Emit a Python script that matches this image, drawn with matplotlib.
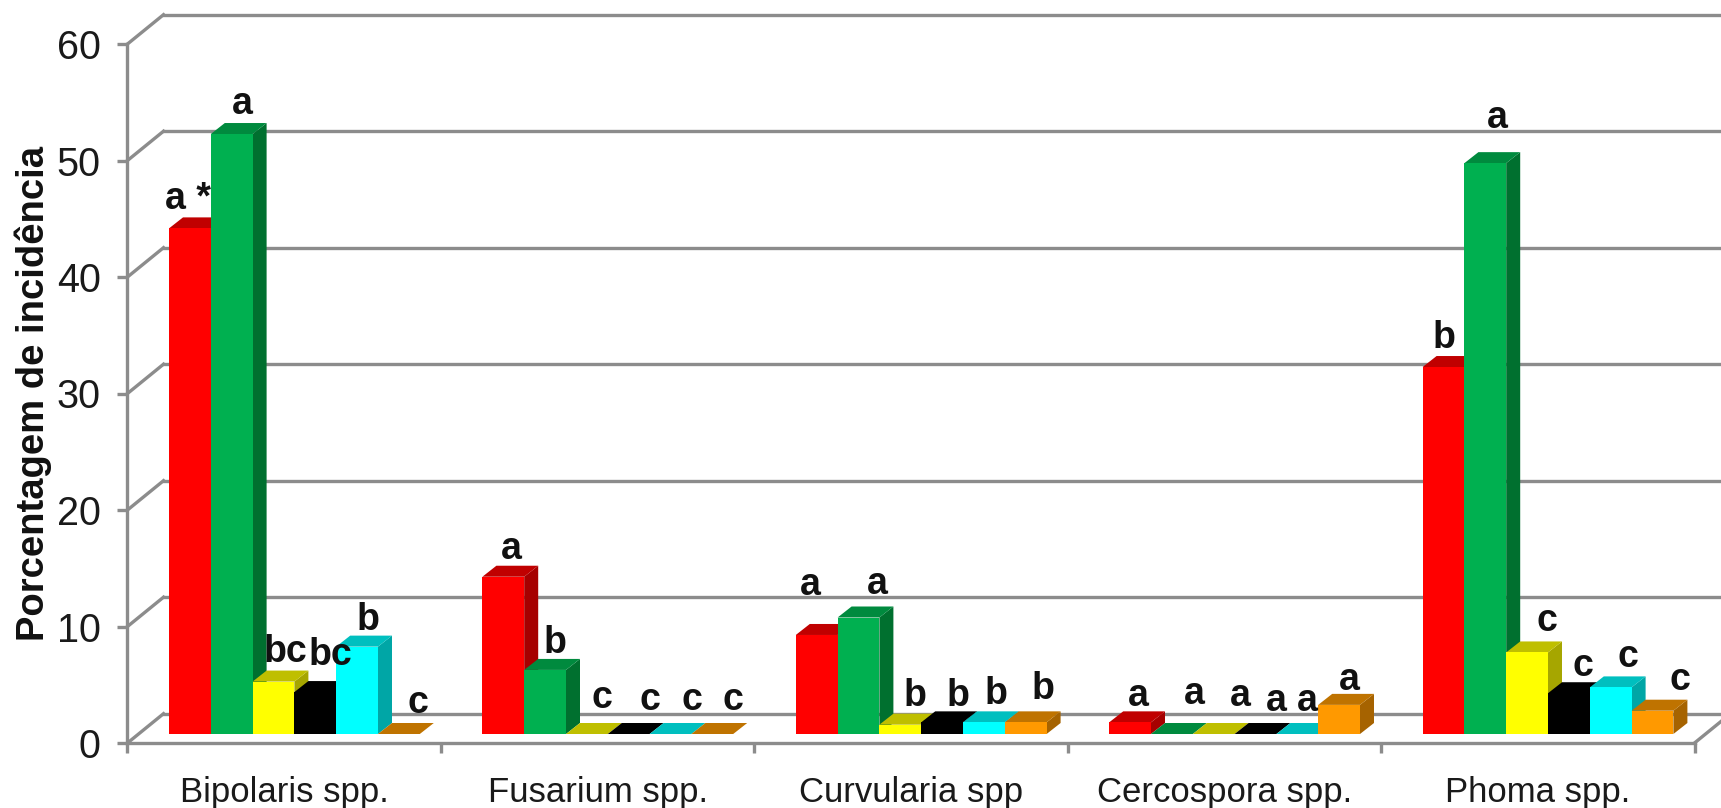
import matplotlib.pyplot as plt
from matplotlib.patches import Polygon
from matplotlib.ticker import FixedLocator, NullFormatter

plt.rcParams["font.family"] = ["Liberation Sans", "DejaVu Sans"]

CATEGORIES = ["Bipolaris spp.", "Fusarium spp.", "Curvularia spp",
              "Cercospora spp.", "Phoma spp."]

RED = [43.4, 13.5, 8.5, 1.0, 31.5]
GREEN = [51.5, 5.5, 10.0, 0.0, 49.0]
YELLOW = [4.5, 0.0, 0.8, 0.0, 7.0]
BLACK = [3.6, 0.0, 1.0, 0.0, 3.5]
CYAN = [7.5, 0.0, 1.0, 0.0, 4.0]
ORANGE = [0.0, 0.0, 1.0, 2.5, 2.0]
SERIES = [RED, GREEN, YELLOW, BLACK, CYAN, ORANGE]

LETTERS = [
    ["a *", "a", "bc", "bc", "b", "c"],
    ["a", "b", "c", "c", "c", "c"],
    ["a", "a", "b", "b", "b", "b"],
    ["a", "a", "a", "a", "a", "a"],
    ["b", "a", "c", "c", "c", "c"],
]

# letter offset from the top of each bar, in pixels
LETTER_DX = [
    [-2, 11, 11.5, 14.7, 11, 19],
    [8.2, 10.3, 14.6, 21.1, 21, 21],
    [-6.7, 18.5, 15, 16, 11.7, 17],
    [8.2, 22.4, 26.7, 21, 10, 10],
    [0, 12, 19.6, 14, 17.2, 27],
]
LETTER_DY = [
    [29, 30, 29.5, 37, 26.5, 31],
    [28, 27, 36, 34, 34, 34],
    [49.5, 33, 29, 26.6, 28.8, 33.3],
    [26.6, 40.5, 38.3, 32.8, 32.8, 24.6],
    [29, 45, 31.4, 27, 30.7, 30.3],
]

FRONT = ["#ff0000", "#00b050", "#ffff00", "#000000", "#00ffff", "#ff9900"]
TOP = ["#c00000", "#008a3e", "#bfbf00", "#000000", "#00bfbf", "#bf7300"]
SIDE = ["#a60000", "#00702f", "#a6a600", "#000000", "#00a6a6", "#a66300"]

GRID = "#8c8c8c"
W, H = 1721, 808
LEFT, RIGHT, TOP_PX, BOTTOM_PX = 127.5, 1694.5, 44, 743

PX_X = 5 / (RIGHT - LEFT)
PX_Y = 60 / (BOTTOM_PX - TOP_PX)

WALL_DX, WALL_DY = 36 * PX_X, 29.3 * PX_Y
DEPTH_DX, DEPTH_DY = 14 * PX_X, 11 * PX_Y
FLOOR = 9 * PX_Y
START = 41.5 * PX_X
BAR_W = 41.8 * PX_X

fig = plt.figure(figsize=(W / 100, H / 100), dpi=100)
ax = fig.add_axes([LEFT / W, 1 - BOTTOM_PX / H,
                   (RIGHT - LEFT) / W, (BOTTOM_PX - TOP_PX) / H])
ax.set_xlim(0, 5)
ax.set_ylim(0, 60)
ax.patch.set_visible(False)

for s in ("top", "right"):
    ax.spines[s].set_visible(False)
for s in ("left", "bottom"):
    ax.spines[s].set_color(GRID)
    ax.spines[s].set_linewidth(2.4)
    ax.spines[s].set_zorder(1)

ax.set_yticks(range(0, 61, 10))
ax.set_xticks(range(0, 6))
ax.xaxis.set_major_formatter(NullFormatter())
ax.xaxis.set_minor_locator(FixedLocator([i + 0.5 for i in range(5)]))
ax.set_xticklabels(CATEGORIES, minor=True)
ax.tick_params(axis="both", which="major", color=GRID, width=2.4, length=7.2)
ax.tick_params(axis="y", labelsize=28.5, labelcolor="#1a1a1a", pad=12)
ax.tick_params(axis="x", which="minor", length=0, labelsize=25,
               labelcolor="#1a1a1a", pad=24)

ax.set_ylabel("Porcentagem de incidência", fontsize=27.5, fontweight="bold",
              color="#111111")
ax.yaxis.set_label_coords((52 - LEFT) / (RIGHT - LEFT), 0.5)

# back wall grid
for y in range(0, 61, 10):
    ax.plot([0, WALL_DX], [y, y + WALL_DY], color=GRID, lw=2.4, clip_on=False,
            zorder=1)
    ax.plot([WALL_DX, 5 + WALL_DX], [y + WALL_DY, y + WALL_DY], color=GRID,
            lw=2.4, clip_on=False, zorder=1)
ax.plot([5, 5 + WALL_DX], [0, WALL_DY], color=GRID, lw=2.4, clip_on=False,
        zorder=1)

z = 2
for c in range(len(CATEGORIES)):
    for i, values in enumerate(SERIES):
        v = values[c]
        x0 = c + START + i * BAR_W
        x1 = x0 + BAR_W
        top = FLOOR + v

        ax.add_patch(Polygon(
            [(x1, FLOOR), (x1 + DEPTH_DX, FLOOR + DEPTH_DY),
             (x1 + DEPTH_DX, top + DEPTH_DY), (x1, top)],
            facecolor=SIDE[i], edgecolor="none", zorder=z, clip_on=False))
        ax.add_patch(Polygon(
            [(x0, top), (x1, top), (x1 + DEPTH_DX, top + DEPTH_DY),
             (x0 + DEPTH_DX, top + DEPTH_DY)],
            facecolor=TOP[i], edgecolor="none", zorder=z, clip_on=False))
        if v > 0:
            ax.bar(x0, v, BAR_W, bottom=FLOOR, align="edge", color=FRONT[i],
                   linewidth=0, zorder=z + 0.5)
        z += 1

# letters go above every bar
for c in range(len(CATEGORIES)):
    for i, values in enumerate(SERIES):
        x = c + START + (i + 0.5) * BAR_W
        ax.annotate(LETTERS[c][i], (x, FLOOR + values[c]),
                    xytext=(LETTER_DX[c][i], LETTER_DY[c][i]),
                    textcoords="offset pixels", ha="center", va="center",
                    fontsize=27, fontweight="bold", color="#111111",
                    zorder=100, annotation_clip=False)

fig.savefig("out.png", dpi=100)
